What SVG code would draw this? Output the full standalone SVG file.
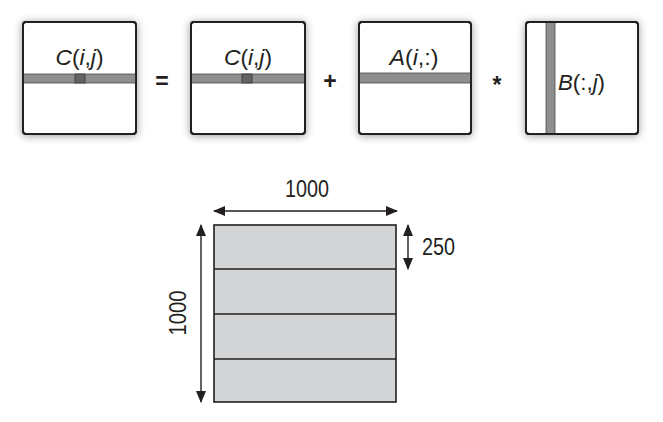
<svg xmlns="http://www.w3.org/2000/svg" width="663" height="422" viewBox="0 0 663 422">
<style>
.box{fill:#fff;stroke:#231f20;stroke-width:1.8}
.band{fill:#8c8e90;stroke:#4a4a4a;stroke-width:0.8}
.cell{fill:#606264;stroke:#3a3a3a;stroke-width:0.8}
.lbl{font-family:"Liberation Sans",Arial,sans-serif;font-size:22px;fill:#231f20}
.it{font-style:italic}
.op{font-family:"Liberation Sans",Arial,sans-serif;font-weight:bold;font-size:23px;fill:#231f20;text-anchor:middle}
.dim{font-family:"Liberation Sans",Arial,sans-serif;font-size:24px;fill:#231f20}
.blk{fill:#d4d5d7;stroke:#231f20;stroke-width:1.6}
.ln{stroke:#231f20;stroke-width:1.4;fill:none}
.dline{stroke:#231f20;stroke-width:1.4;fill:none;marker-start:url(#ah);marker-end:url(#ah)}
</style>
<defs>
<filter id="sh" x="-20%" y="-20%" width="140%" height="140%">
<feDropShadow dx="0" dy="1" stdDeviation="4" flood-color="#000" flood-opacity="0.4"/>
</filter>
<marker id="ah" viewBox="0 0 12 10" refX="11" refY="5" markerWidth="12" markerHeight="10" markerUnits="userSpaceOnUse" orient="auto-start-reverse">
<path d="M0,0 L12,5 L0,10 Z" fill="#231f20"/>
</marker>
</defs>

<g id="matC1">
<rect class="box" x="23" y="22" width="113" height="112" rx="3" filter="url(#sh)"/>
<rect class="band" x="23" y="74" width="113" height="9"/>
<rect class="cell" x="75" y="74" width="10" height="9"/>
<rect x="23" y="22" width="113" height="112" rx="3" fill="none" stroke="#231f20" stroke-width="1.8"/>
<text class="lbl" x="79.5" y="65" text-anchor="middle" textLength="48" lengthAdjust="spacingAndGlyphs"><tspan class="it">C</tspan>(<tspan class="it">i</tspan>,<tspan class="it">j</tspan>)</text>
</g>

<g id="eq"><text class="op" x="162" y="89">=</text></g>

<g id="matC2">
<rect class="box" x="191" y="22" width="114" height="112" rx="3" filter="url(#sh)"/>
<rect class="band" x="191" y="74" width="114" height="9"/>
<rect class="cell" x="242" y="74" width="10" height="9"/>
<rect x="191" y="22" width="114" height="112" rx="3" fill="none" stroke="#231f20" stroke-width="1.8"/>
<text class="lbl" x="248" y="65" text-anchor="middle" textLength="48" lengthAdjust="spacingAndGlyphs"><tspan class="it">C</tspan>(<tspan class="it">i</tspan>,<tspan class="it">j</tspan>)</text>
</g>

<g id="plus"><text class="op" x="330" y="89">+</text></g>

<g id="matA">
<rect class="box" x="359" y="22" width="112" height="112" rx="3" filter="url(#sh)"/>
<rect class="band" x="359" y="73" width="112" height="10"/>
<rect x="359" y="22" width="112" height="112" rx="3" fill="none" stroke="#231f20" stroke-width="1.8"/>
<text class="lbl" x="414" y="65" text-anchor="middle" textLength="49" lengthAdjust="spacingAndGlyphs"><tspan class="it">A</tspan>(<tspan class="it">i</tspan>,:)</text>
</g>

<g id="times"><text class="op" x="497" y="93">*</text></g>

<g id="matB">
<rect class="box" x="526" y="22" width="112" height="112" rx="3" filter="url(#sh)"/>
<rect class="band" x="546" y="22" width="9" height="112"/>
<rect x="526" y="22" width="112" height="112" rx="3" fill="none" stroke="#231f20" stroke-width="1.8"/>
<text class="lbl" x="558" y="90" textLength="47" lengthAdjust="spacingAndGlyphs"><tspan class="it">B</tspan>(:,<tspan class="it">j</tspan>)</text>
</g>

<g id="blocks">
<rect class="blk" x="214" y="225" width="182" height="177"/>
<line class="ln" x1="214" y1="269" x2="396" y2="269"/>
<line class="ln" x1="214" y1="314" x2="396" y2="314"/>
<line class="ln" x1="214" y1="359" x2="396" y2="359"/>
</g>

<g id="connectors">
<line class="dline" x1="214" y1="211" x2="397" y2="211"/>
<line class="dline" x1="201" y1="225" x2="201" y2="402"/>
<line class="dline" x1="408" y1="225" x2="408" y2="269"/>
</g>

<g id="dims">
<text class="dim" x="307" y="197" text-anchor="middle" textLength="44" lengthAdjust="spacingAndGlyphs">1000</text>
<text class="dim" transform="translate(186,313) rotate(-90)" x="0" y="0" text-anchor="middle" textLength="45" lengthAdjust="spacingAndGlyphs">1000</text>
<text class="dim" x="422" y="255" textLength="33" lengthAdjust="spacingAndGlyphs">250</text>
</g>
</svg>
